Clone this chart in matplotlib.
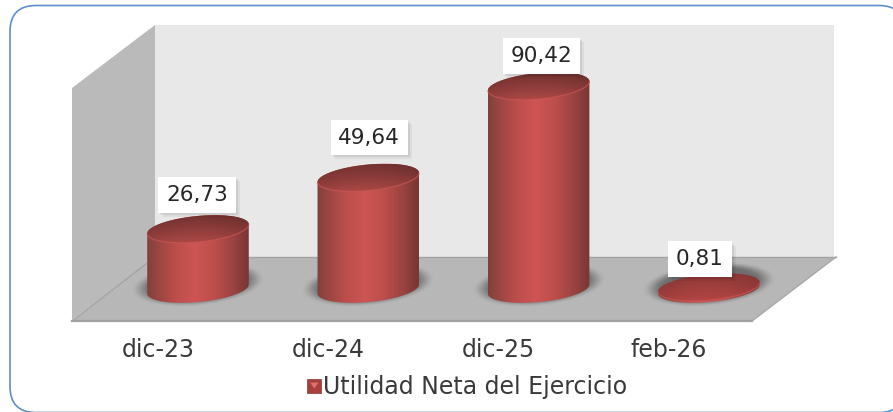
import numpy as np
import matplotlib
matplotlib.use("Agg")
import matplotlib.pyplot as plt
from matplotlib.patches import Polygon, FancyBboxPatch, Rectangle, Patch
from matplotlib.colors import LinearSegmentedColormap, to_rgb
from matplotlib.transforms import ScaledTranslation
from matplotlib.legend_handler import HandlerBase
import matplotlib.patheffects as pe

categories = ["dic-23", "dic-24", "dic-25", "feb-26"]
values = [26.73, 49.64, 90.42, 0.81]
value_labels = ["26,73", "49,64", "90,42", "0,81"]
series_name = "Utilidad Neta del Ejercicio"
# label offset from each cylinder top, in pixels (right, up)
label_offsets = [(-1, 34), (1, 40), (3, 30), (-9, 28)]

plt.rcParams["font.family"] = ["DejaVu Sans"]
W, H = 893, 412
fig = plt.figure(figsize=(W / 100, H / 100), dpi=100, facecolor="white")

# ---- chrome, in pixel coordinates
bg = fig.add_axes([0, 0, 1, 1])
bg.set_xlim(0, W); bg.set_ylim(H, 0); bg.axis("off")
bg.add_patch(FancyBboxPatch((10, 5.5), 895, 407, boxstyle="round,pad=0,rounding_size=26",
                            fc="white", ec="#5f8fcb", lw=1.2, clip_on=True))
bg.add_patch(Polygon([(155, 25), (834, 25), (834, 257), (155, 257)], fc="#e8e8e8", ec="none"))
bg.add_patch(Polygon([(72, 88), (155, 25), (155, 257), (72, 320)], fc="#bababa", ec="none"))
bg.add_patch(Polygon([(72, 321), (155, 257), (836, 257), (752, 321)], fc="#b7b7b7", ec="none"))
bg.plot([72, 752], [321, 321], color="#a0a0a0", lw=1.6)
bg.plot([155, 836], [257, 257], color="#a3a3a3", lw=1.0)
bg.plot([72, 155], [321, 257], color="#a3a3a3", lw=1.0)
bg.plot([836, 752], [257, 321], color="#a8a8a8", lw=1.0)

# ---- data axes
PX_X = 170.3   # pixels per category
PX_Y = 2.245   # pixels per value unit
x0_px, y0_px = 198 - 0.5 * PX_X, 289
ymin, ymax = -15, 120
ax = fig.add_axes([x0_px / W, (H - y0_px + ymin * PX_Y) / H,
                   4 * PX_X / W, (ymax - ymin) * PX_Y / H])
ax.patch.set_visible(False)
ax.set_xlim(-0.5, 3.5); ax.set_ylim(ymin, ymax)
for s in ax.spines.values():
    s.set_visible(False)
ax.yaxis.set_visible(False)
ax.set_xticks(range(len(categories)), categories)
ax.tick_params(axis="x", length=0, pad=11, labelsize=17, labelcolor="#3a3a3a")
shift = ScaledTranslation(-40 / 100, 0, fig.dpi_scale_trans)
for lab in ax.get_xticklabels():
    lab.set_transform(lab.get_transform() + shift)

A, B, TILT = 51.0, 13.0, np.radians(5.5)
t = np.linspace(0, 2 * np.pi, 361)
ex = A * np.cos(t) * np.cos(TILT) - B * np.sin(t) * np.sin(TILT)
ey = A * np.cos(t) * np.sin(TILT) + B * np.sin(t) * np.cos(TILT)   # pixels, up
i_r, i_l = int(np.argmax(ex)), int(np.argmin(ex))

body_cmap = LinearSegmentedColormap.from_list("body", [
    (0.00, "#80403c"), (0.10, "#994542"), (0.28, "#bb4e4b"), (0.47, "#ce5553"),
    (0.66, "#bd4e4b"), (0.86, "#974240"), (1.00, "#773634")])

def ell(cx, cy):
    return np.column_stack([cx + ex / PX_X, cy + ey / PX_Y])

def ring(i_from, i_to):
    return np.arange(i_from, i_from + ((i_to - i_from) % 360) + 1) % 360

def blob(cx):
    gx = np.linspace(-85, 85, 171); gy = np.linspace(-34, 34, 69)
    X, Y = np.meshgrid(gx, gy)
    Y = Y - 5
    u = X * np.cos(TILT) + Y * np.sin(TILT)
    v = -X * np.sin(TILT) + Y * np.cos(TILT)
    r = np.hypot(u / 68, v / 22)
    a = np.clip((1.0 - r) / 0.32, 0, 1)
    img = np.zeros(X.shape + (4,))
    img[..., 0:3] = 0.3
    img[..., 3] = 0.68 * a * a * (3 - 2 * a)
    ax.imshow(img, extent=[cx - 85 / PX_X, cx + 85 / PX_X, -34 / PX_Y, 34 / PX_Y],
              origin="lower", aspect="auto", zorder=1, interpolation="bilinear")

for i, v in enumerate(values):
    blob(i)
    half = A / PX_X
    mid_low = ey[(i_l + i_r) // 2] < 0
    lower_idx = ring(i_l, i_r) if mid_low else ring(i_r, i_l)
    upper_idx = ring(i_r, i_l) if mid_low else ring(i_l, i_r)
    lower = ell(i, 0)[lower_idx]
    upper = ell(i, v)[upper_idx]
    poly = Polygon(np.vstack([lower, upper]), closed=True, fc="none", ec="none",
                   transform=ax.transData)
    ax.add_patch(poly)
    grad = np.linspace(0, 1, 256)[None, :]
    im = ax.imshow(grad, extent=[i - half, i + half, -16 / PX_Y, v + 16 / PX_Y],
                   cmap=body_cmap, aspect="auto", zorder=2, origin="lower")
    im.set_clip_path(poly)
    # top face
    top_poly = Polygon(ell(i, v), closed=True, fc="none", ec="none", transform=ax.transData)
    ax.add_patch(top_poly)
    c1, c2 = np.array(to_rgb("#733331")), np.array(to_rgb("#ad4846"))
    if v < 5:
        c1, c2 = np.array(to_rgb("#8f3a38")), np.array(to_rgb("#b44644"))
    yy = np.linspace(0, 1, 64)[:, None]
    xx = np.linspace(-1, 1, 128)[None, :]
    shade = yy ** 1.1
    img = (c1[None, None, :] + (c2 - c1)[None, None, :] * shade[:, :, None]) * (1 - 0.1 * (xx ** 2))[:, :, None]
    im2 = ax.imshow(np.clip(img, 0, 1), extent=[i - half, i + half, v - 14 / PX_Y, v + 14 / PX_Y],
                    aspect="auto", zorder=3, origin="upper")
    im2.set_clip_path(top_poly)
    # soft highlight along the near edge of the top
    rim = ell(i, v)[lower_idx]
    ax.plot(rim[:, 0], rim[:, 1], color="#c85754", lw=0.9, zorder=4, alpha=0.7,
            solid_capstyle="round")

    ann = ax.annotate(value_labels[i], xy=(i, v), xytext=label_offsets[i],
                      textcoords="offset pixels", ha="center", va="center",
                      fontsize=15.5, color="#262626", zorder=6,
                      bbox=dict(boxstyle="square,pad=0.36", fc="white", ec="none"))
    ann.get_bbox_patch().set_path_effects([
        pe.SimplePatchShadow(offset=(1.5, -1.5), shadow_rgbFace="black", alpha=0.07),
        pe.SimplePatchShadow(offset=(3, -3), shadow_rgbFace="black", alpha=0.05),
        pe.Normal()])

# ---- legend
class SquareHandler(HandlerBase):
    def create_artists(self, legend, orig, xd, yd, w, h, fontsize, trans):
        s = 10.0
        x = xd + (w - s) / 2; y = yd + (h - s) / 2
        sq = Rectangle((x, y), s, s, fc="#a83f3d", ec="#8a3634", lw=0.5, transform=trans)
        tri = Polygon([(x + s * .2, y + s * .72), (x + s * .8, y + s * .72), (x + s * .5, y + s * .3)],
                      fc="#d9726f", ec="none", transform=trans)
        return [sq, tri]

leg = fig.legend([Patch()], [series_name], handler_map={Patch: SquareHandler()},
                 loc="center", bbox_to_anchor=(467 / W, 1 - 387 / H),
                 frameon=False, fontsize=17, handlelength=0.62, handletextpad=0.05,
                 labelcolor="#3a3a3a", borderpad=0)

fig.savefig("out.png", dpi=100, facecolor="white")
